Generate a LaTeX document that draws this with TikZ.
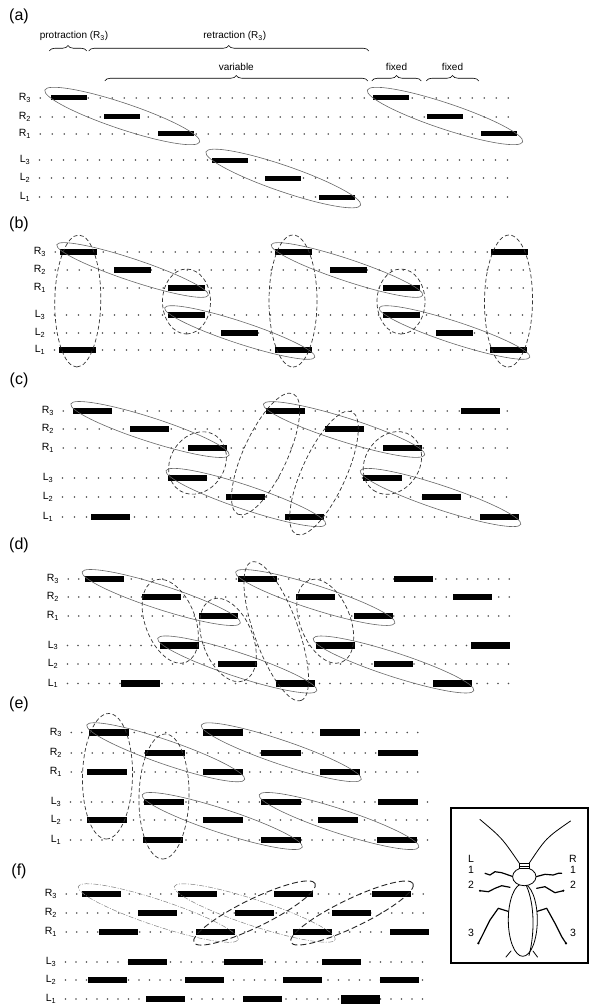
\documentclass[tikz,border=0pt]{standalone}
\usepackage{fontspec}
\setsansfont{Liberation Sans}
\usetikzlibrary{calc,shapes.geometric,decorations.pathreplacing}
\tikzset{
  bar/.style={fill=black, minimum width=38pt, minimum height=6pt, inner sep=0pt},
  dots/.style={line width=1.7pt, line cap=round, dash pattern=on 0pt off 12pt, black!70},
  leglab/.style={font=\sffamily\fontsize{10.5}{11}\selectfont, inner sep=0pt},
  tag/.style={font=\sffamily\fontsize{16}{18}\selectfont, inner sep=0pt},
  hdr/.style={font=\sffamily\fontsize{10}{11}\selectfont, inner sep=0pt},
  brc/.style={decorate, decoration={brace, amplitude=5.5pt}, line width=0.6pt},
  tri/.style={draw=black!60, line width=0.6pt},
  pair/.style={draw=black!80, line width=0.7pt, dash pattern=on 4pt off 2.5pt},
  trif/.style={draw=black!50, line width=0.5pt, dash pattern=on 5pt off 1.5pt on 1pt off 1.5pt},
  pairf/.style={draw=black!85, line width=0.9pt, dash pattern=on 6pt off 3pt},
  bugline/.style={line width=0.8pt, line join=round, line cap=round},
  buglab/.style={font=\sffamily\fontsize{10.5}{11}\selectfont, inner sep=0pt},
}
% leg label with subscript
\newcommand{\limb}[2]{#1\textsubscript{#2}}
% ellipse round two bars: [style]{first}{last}{extra length}{half width}
\newcommand{\ring}[5][tri]{%
  \path let \p1=(#2), \p2=(#3),
            \n1={atan2(\y2-\y1,\x2-\x1)},
            \n2={veclen(\x2-\x1,\y2-\y1)+2*(#4)} in
    node[ellipse, #1, rotate=\n1, minimum width=\n2, minimum height=2*(#5), inner sep=0pt]
      (#2-#3) at ($(\p1)!0.5!(\p2)$) {};
}

\begin{document}
\begin{tikzpicture}[x=1pt, y=-1pt]
\useasboundingbox (0,0) rectangle (589,1006);

% ---------- (a)
\begin{scope}[bar/.append style={minimum width=36pt, minimum height=5pt}]
\node[tag] (a) at (19,16) {(a)};
\node[leglab] (aR3) at (25,98) {\limb{R}{3}};
\node[leglab] (aR2) at (25,117) {\limb{R}{2}};
\node[leglab] (aR1) at (25,134) {\limb{R}{1}};
\node[leglab] (aL3) at (25,160) {\limb{L}{3}};
\node[leglab] (aL2) at (25,178) {\limb{L}{2}};
\node[leglab] (aL1) at (25,197) {\limb{L}{1}};
\coordinate (aend) at (517,0);
\foreach \r in {R3,R2,R1,L3,L2,L1} \draw[dots] (a\r.east) ++(9pt,0) -- (a\r.east -| aend);
\node[bar] (aR3-1) at (68.5,0 |- aR3) {}; \node[bar] (aR3-2) at (391,0 |- aR3) {};
\node[bar] (aR2-1) at (122,0 |- aR2) {};  \node[bar] (aR2-2) at (444.5,0 |- aR2) {};
\node[bar] (aR1-1) at (176,0 |- aR1) {};  \node[bar] (aR1-2) at (499,0 |- aR1) {};
\node[bar] (aL3-1) at (229.5,0 |- aL3) {};
\node[bar] (aL2-1) at (283,0 |- aL2) {};
\node[bar] (aL1-1) at (337,0 |- aL1) {};
\ring{aR3-1}{aR1-1}{25}{13}
\ring{aR3-2}{aR1-2}{25}{13}
\ring{aL3-1}{aL1-1}{25}{13}
% phase braces
\coordinate (brtop) at (0,51);
\coordinate (brlow) at (0,81);
\draw[brc] ([xshift=-1pt]aR3-1.west |- brtop) -- node[hdr, above=10pt, xshift=6pt] {protraction (R\textsubscript{3})} (aR3-1.east |- brtop);
\draw[brc] ([xshift=2pt]aR3-1.east |- brtop) -- node[hdr, above=10pt, xshift=6pt] {retraction (R\textsubscript{3})} ([xshift=-4pt]aR3-2.west |- brtop);
\draw[brc] ([xshift=1pt]aR2-1.west |- brlow) -- node[hdr, above=10pt] {variable} ([xshift=-5pt]aR3-2.west |- brlow);
\draw[brc] ([xshift=-1pt]aR3-2.west |- brlow) -- node[hdr, above=10pt] {fixed} ([xshift=-5pt]aR2-2.west |- brlow);
\draw[brc] (aR2-2.west |- brlow) -- node[hdr, above=10pt] {fixed} ([xshift=-2pt]aR1-2.west |- brlow);
\end{scope}

% ---------- (b)
\begin{scope}[bar/.append style={minimum width=37pt, minimum height=5.5pt}]
\node[tag] (b) at (19,224) {(b)};
\node[leglab] (bR3) at (40,252) {\limb{R}{3}};
\node[leglab] (bR2) at (40,270) {\limb{R}{2}};
\node[leglab] (bR1) at (40,288) {\limb{R}{1}};
\node[leglab] (bL3) at (40,315) {\limb{L}{3}};
\node[leglab] (bL2) at (40,333) {\limb{L}{2}};
\node[leglab] (bL1) at (40,350) {\limb{L}{1}};
\coordinate (bend) at (534,0);
\foreach \r in {R3,R2,R1,L3,L2,L1} \draw[dots] (b\r.east) ++(9pt,0) -- (b\r.east -| bend);
\node[bar] (bR3-1) at (78.6,0 |- bR3) {}; \node[bar] (bR3-2) at (293,0 |- bR3) {}; \node[bar] (bR3-3) at (509,0 |- bR3) {};
\node[bar] (bR2-1) at (132,0 |- bR2) {};  \node[bar] (bR2-2) at (348,0 |- bR2) {};
\node[bar] (bR1-1) at (186.5,0 |- bR1) {}; \node[bar] (bR1-2) at (401,0 |- bR1) {};
\node[bar] (bL3-1) at (186.5,0 |- bL3) {}; \node[bar] (bL3-2) at (401,0 |- bL3) {};
\node[bar] (bL2-1) at (239,0 |- bL2) {};  \node[bar] (bL2-2) at (454,0 |- bL2) {};
\node[bar] (bL1-1) at (77,0 |- bL1) {};   \node[bar] (bL1-2) at (293,0 |- bL1) {}; \node[bar] (bL1-3) at (508,0 |- bL1) {};
\ring{bR3-1}{bR1-1}{23}{11}
\ring{bR3-2}{bR1-2}{23}{11}
\ring{bL3-1}{bL1-2}{23}{11}
\ring{bL3-2}{bL1-3}{23}{11}
\ring[pair]{bR3-1}{bL1-1}{17}{23}
\ring[pair]{bR3-2}{bL1-2}{17}{24}
\ring[pair]{bR3-3}{bL1-3}{17}{24}
\ring[pair]{bR1-1}{bL3-1}{19}{24}
\ring[pair]{bR1-2}{bL3-2}{19}{24}
\end{scope}

% ---------- (c)
\begin{scope}[bar/.append style={minimum width=39pt, minimum height=6pt}]
\node[tag] (c) at (19,380) {(c)};
\node[leglab] (cR3) at (48,411) {\limb{R}{3}};
\node[leglab] (cR2) at (48,429) {\limb{R}{2}};
\node[leglab] (cR1) at (48,448) {\limb{R}{1}};
\node[leglab] (cL3) at (48,478) {\limb{L}{3}};
\node[leglab] (cL2) at (48,497) {\limb{L}{2}};
\node[leglab] (cL1) at (48,517) {\limb{L}{1}};
\coordinate (cend) at (514,0);
\foreach \r in {R3,R2,R1,L3,L2,L1} \draw[dots] (c\r.east) ++(9pt,0) -- (c\r.east -| cend);
\node[bar] (cR3-1) at (92.7,0 |- cR3) {}; \node[bar] (cR3-2) at (285.3,0 |- cR3) {}; \node[bar] (cR3-3) at (480.3,0 |- cR3) {};
\node[bar] (cR2-1) at (149.4,0 |- cR2) {}; \node[bar] (cR2-2) at (344,0 |- cR2) {};
\node[bar] (cR1-1) at (207.3,0 |- cR1) {}; \node[bar] (cR1-2) at (402.8,0 |- cR1) {};
\node[bar] (cL3-1) at (187.8,0 |- cL3) {}; \node[bar] (cL3-2) at (382,0 |- cL3) {};
\node[bar] (cL2-1) at (245.9,0 |- cL2) {}; \node[bar] (cL2-2) at (441.2,0 |- cL2) {};
\node[bar] (cL1-1) at (110.3,0 |- cL1) {}; \node[bar] (cL1-2) at (304,0 |- cL1) {}; \node[bar] (cL1-3) at (499,0 |- cL1) {};
\ring{cR3-1}{cR1-1}{23}{12}
\ring{cR3-2}{cR1-2}{23}{12}
\ring{cL3-1}{cL1-2}{23}{12}
\ring{cL3-2}{cL1-3}{23}{12}
\ring[pair]{cR1-1}{cL3-1}{15}{27}
\ring[pair]{cR1-2}{cL3-2}{15}{27}
\ring[pair]{cR3-2}{cL2-1}{19}{22}
\ring[pair]{cR2-2}{cL1-2}{19}{22}
\end{scope}

% ---------- (d)
\begin{scope}[bar/.append style={minimum width=39pt, minimum height=6.5pt}, dots/.append style={dash pattern=on 0pt off 10.5pt}]
\node[tag] (d) at (19,545) {(d)};
\node[leglab] (dR3) at (53,579) {\limb{R}{3}};
\node[leglab] (dR2) at (53,597) {\limb{R}{2}};
\node[leglab] (dR1) at (53,616) {\limb{R}{1}};
\node[leglab] (dL3) at (53,645.5) {\limb{L}{3}};
\node[leglab] (dL2) at (53,664) {\limb{L}{2}};
\node[leglab] (dL1) at (53,683.5) {\limb{L}{1}};
\coordinate (dend) at (511,0);
\foreach \r in {R3,R2,R1,L3,L2,L1} \draw[dots] (d\r.east) ++(9pt,0) -- (d\r.east -| dend);
\node[bar] (dR3-1) at (104,0 |- dR3) {};   \node[bar] (dR3-2) at (257.5,0 |- dR3) {}; \node[bar] (dR3-3) at (413,0 |- dR3) {};
\node[bar] (dR2-1) at (161,0 |- dR2) {};   \node[bar] (dR2-2) at (315.5,0 |- dR2) {}; \node[bar] (dR2-3) at (472,0 |- dR2) {};
\node[bar] (dR1-1) at (218.5,0 |- dR1) {}; \node[bar] (dR1-2) at (373,0 |- dR1) {};
\node[bar] (dL3-1) at (179.5,0 |- dL3) {}; \node[bar] (dL3-2) at (335,0 |- dL3) {};   \node[bar] (dL3-3) at (490.5,0 |- dL3) {};
\node[bar] (dL2-1) at (237.5,0 |- dL2) {}; \node[bar] (dL2-2) at (393,0 |- dL2) {};
\node[bar] (dL1-1) at (140.5,0 |- dL1) {}; \node[bar] (dL1-2) at (295,0 |- dL1) {};   \node[bar] (dL1-3) at (452,0 |- dL1) {};
\ring{dR3-1}{dR1-1}{23}{12}
\ring{dR3-2}{dR1-2}{23}{12}
\ring{dL3-1}{dL1-2}{23}{12}
\ring{dL3-2}{dL1-3}{23}{12}
\ring[pair]{dR2-1}{dL3-1}{18}{25}
\ring[pair]{dR1-1}{dL2-1}{18}{25}
\ring[pair]{dR3-2}{dL1-2}{18}{22}
\ring[pair]{dR2-2}{dL3-2}{18}{25}
\end{scope}

% ---------- (e)
\begin{scope}[bar/.append style={minimum width=40pt, minimum height=6.5pt}, dots/.append style={dash pattern=on 0pt off 10.5pt}]
\node[tag] (e) at (19,704) {(e)};
\node[leglab] (eR3) at (56,732.5) {\limb{R}{3}};
\node[leglab] (eR2) at (56,753) {\limb{R}{2}};
\node[leglab] (eR1) at (56,772) {\limb{R}{1}};
\node[leglab] (eL3) at (56,802) {\limb{L}{3}};
\node[leglab] (eL2) at (56,820) {\limb{L}{2}};
\node[leglab] (eL1) at (56,840) {\limb{L}{1}};
\coordinate (eend) at (428,0);
\foreach \r in {R3,R2,R1,L3,L2,L1} \draw[dots] (e\r.east) ++(9pt,0) -- (e\r.east -| eend);
\node[bar] (eR3-1) at (108.5,0 |- eR3) {}; \node[bar] (eR3-2) at (223,0 |- eR3) {};   \node[bar] (eR3-3) at (339.5,0 |- eR3) {};
\node[bar] (eR2-1) at (165,0 |- eR2) {};   \node[bar] (eR2-2) at (281,0 |- eR2) {};   \node[bar] (eR2-3) at (397.5,0 |- eR2) {};
\node[bar] (eR1-1) at (107,0 |- eR1) {};   \node[bar] (eR1-2) at (223,0 |- eR1) {};   \node[bar] (eR1-3) at (339.5,0 |- eR1) {};
\node[bar] (eL3-1) at (164,0 |- eL3) {};   \node[bar] (eL3-2) at (281,0 |- eL3) {};   \node[bar] (eL3-3) at (397.5,0 |- eL3) {};
\node[bar] (eL2-1) at (106.5,0 |- eL2) {}; \node[bar] (eL2-2) at (222.5,0 |- eL2) {}; \node[bar] (eL2-3) at (338,0 |- eL2) {};
\node[bar] (eL1-1) at (163,0 |- eL1) {};   \node[bar] (eL1-2) at (280.5,0 |- eL1) {}; \node[bar] (eL1-3) at (397,0 |- eL1) {};
\ring{eR3-1}{eR1-2}{23}{12}
\ring{eR3-2}{eR1-3}{23}{12}
\ring{eL3-1}{eL1-2}{23}{12}
\ring{eL3-2}{eL1-3}{23}{12}
\ring[pair]{eR3-1}{eL2-1}{19}{25}
\ring[pair]{eR2-1}{eL1-1}{19}{25}
\end{scope}

% ---------- (f)
\begin{scope}[bar/.append style={minimum width=39pt, minimum height=6.5pt}, dots/.append style={dash pattern=on 0pt off 10.5pt}]
\node[tag] (f) at (19,871) {(f)};
\node[leglab] (fR3) at (51,894) {\limb{R}{3}};
\node[leglab] (fR2) at (51,913) {\limb{R}{2}};
\node[leglab] (fR1) at (51,932) {\limb{R}{1}};
\node[leglab] (fL3) at (51,962) {\limb{L}{3}};
\node[leglab] (fL2) at (51,980) {\limb{L}{2}};
\node[leglab] (fL1) at (51,999) {\limb{L}{1}};
\coordinate (fend) at (428,0);
\foreach \r in {R3,R2,R1,L3,L2,L1} \draw[dots] (f\r.east) ++(9pt,0) -- (f\r.east -| fend);
\node[bar] (fR3-1) at (101,0 |- fR3) {};   \node[bar] (fR3-2) at (197,0 |- fR3) {};   \node[bar] (fR3-3) at (293.5,0 |- fR3) {}; \node[bar] (fR3-4) at (391.5,0 |- fR3) {};
\node[bar] (fR2-1) at (157.5,0 |- fR2) {}; \node[bar] (fR2-2) at (254,0 |- fR2) {};   \node[bar] (fR2-3) at (351.5,0 |- fR2) {};
\node[bar] (fR1-1) at (118.5,0 |- fR1) {}; \node[bar] (fR1-2) at (215.5,0 |- fR1) {}; \node[bar] (fR1-3) at (312.5,0 |- fR1) {}; \node[bar] (fR1-4) at (409.5,0 |- fR1) {};
\node[bar] (fL3-1) at (147,0 |- fL3) {};   \node[bar] (fL3-2) at (243,0 |- fL3) {};   \node[bar] (fL3-3) at (341.5,0 |- fL3) {};
\node[bar] (fL2-1) at (107.5,0 |- fL2) {}; \node[bar] (fL2-2) at (204.5,0 |- fL2) {}; \node[bar] (fL2-3) at (302,0 |- fL2) {};   \node[bar] (fL2-4) at (399.5,0 |- fL2) {};
\node[bar] (fL1-1) at (165,0 |- fL1) {};   \node[bar] (fL1-2) at (262.5,0 |- fL1) {}; \node[bar, minimum height=9pt] (fL1-3) at (360.5,0 |- fL1) {};
\ring[trif]{fR3-1}{fR1-2}{24}{13}
\ring[trif]{fR3-2}{fR1-3}{24}{13}
\ring[pairf]{fR1-2}{fR3-3}{24}{14}
\ring[pairf]{fR1-3}{fR3-4}{24}{14}
\end{scope}

% ---------- cockroach, top view
\node[draw, line width=1.2pt, minimum width=137pt, minimum height=155pt, inner sep=0pt] (bugbox) at (519.5,885.5) {};
\begin{scope}[bugline]
% antennae
\draw (519.5,863.5) .. controls (502,838) .. (480,819.5);
\draw (529,863.5) .. controls (546,838) .. (570.5,821);
% legs
\draw[line width=1.2pt] (513.3,876.7) -- (501.7,872.7) -- (495,871.7) -- (490,875) -- (485,873.3);
\draw[line width=1.2pt] (510,887.3) -- (501.7,885.7) -- (495,888.3) -- (488.3,891.7) -- (480,890.7);
\draw[line width=1.2pt] (509.3,911.7) -- (498.3,908.3) -- (490,920) -- (481.7,936.7) -- (478.3,943.3);
\draw[line width=1.2pt] (536,876.7) -- (545,874.3) -- (553.3,875) -- (558.3,873.3) -- (561.7,873.3);
\draw[line width=1.2pt] (536.7,888.3) -- (545,886.7) -- (555,892.7) -- (563.3,890.7);
\draw[line width=1.2pt] (536,911.7) -- (546.7,908.3) -- (555,923.3) -- (561.7,936.7) -- (566,943.3);
\fill (480,890.7) circle (1.2pt) (478.3,943.3) circle (1.2pt) (563.3,890.7) circle (1.2pt) (566,943.3) circle (1.2pt);
% cerci
\draw (511,951) -- (506,957);
\draw (533,951) -- (537.5,957);
% body and wings
\draw[fill=white] (522.8,920) ellipse [x radius=14.5pt, y radius=36.3pt];
\draw (526.5,886) .. controls (535,905) and (534.5,935) .. (529,955.5);
% pronotum and head
\draw[fill=white] (524.3,876.7) ellipse [x radius=11.7pt, y radius=9pt];
\draw[fill=white] (519.5,863.5) rectangle (529,868);
\draw (519.5,866) -- (529,866);
\end{scope}
\node[buglab] (legL) at (471,859) {L};
\node[buglab] (legL1) at (471,870) {1};
\node[buglab] (legL2) at (471,885) {2};
\node[buglab] (legL3) at (471,933) {3};
\node[buglab] (legR) at (573,859) {R};
\node[buglab] (legR1) at (573,870) {1};
\node[buglab] (legR2) at (573,885) {2};
\node[buglab] (legR3) at (573,933) {3};
\end{tikzpicture}
\end{document}
